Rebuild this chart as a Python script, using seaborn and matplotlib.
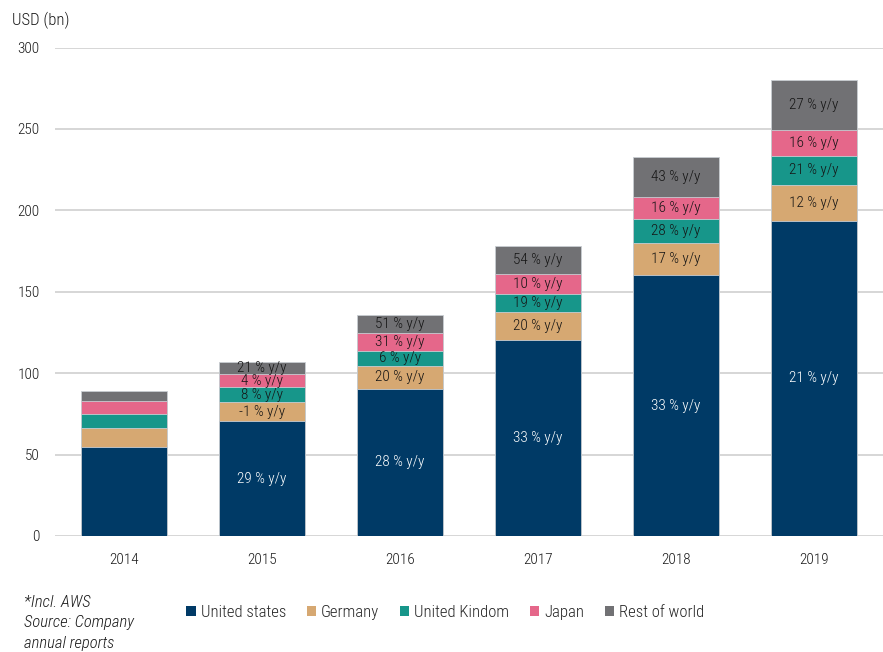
import numpy as np
import pandas as pd
import matplotlib
matplotlib.use("Agg")
import matplotlib.pyplot as plt
from matplotlib.patches import Patch
import seaborn as sns

# Net sales by region, USD bn
years = ["2014", "2015", "2016", "2017", "2018", "2019"]
united_states = [54.7, 70.5, 90.3, 120.5, 160.1, 193.6]
germany = [11.9, 11.8, 14.1, 17.0, 19.9, 22.2]
united_kingdom = [8.3, 9.0, 9.5, 11.4, 14.5, 17.5]
japan = [7.9, 8.3, 10.8, 11.9, 13.8, 16.0]
rest_of_world = [6.1, 7.4, 11.1, 17.2, 24.5, 31.1]

# Year-on-year growth labels (none for the first year)
us_growth = ["", "29 % y/y", "28 % y/y", "33 % y/y", "33 % y/y", "21 % y/y"]
de_growth = ["", "-1 % y/y", "20 % y/y", "20 % y/y", "17 % y/y", "12 % y/y"]
uk_growth = ["", "8 % y/y", "6 % y/y", "19 % y/y", "28 % y/y", "21 % y/y"]
jp_growth = ["", "4 % y/y", "31 % y/y", "10 % y/y", "16 % y/y", "16 % y/y"]
row_growth = ["", "21 % y/y", "51 % y/y", "54 % y/y", "43 % y/y", "27 % y/y"]

series_names = ["United states", "Germany", "United Kindom", "Japan", "Rest of world"]
series_values = [united_states, germany, united_kingdom, japan, rest_of_world]
series_labels = [us_growth, de_growth, uk_growth, jp_growth, row_growth]
series_colors = ["#003A66", "#D6A872", "#17968A", "#E5678A", "#717174"]
label_colors = ["white", "#151515", "#151515", "#151515", "#151515"]

sns.set_theme(style="white")
plt.rcParams["font.family"] = ["Roboto Condensed", "Fira Sans Condensed",
                               "PT Sans Narrow", "DejaVu Sans"]
plt.rcParams["font.weight"] = "light"

fig = plt.figure(figsize=(8.83, 6.52), dpi=100)
ax = fig.add_axes([0.0623, 0.178, 0.9377, 0.749])

values = np.array(series_values)
cumulative = np.cumsum(values, axis=0)
bases = cumulative - values

# Stack by drawing cumulative totals from the top layer down
for i in reversed(range(len(series_names))):
    df = pd.DataFrame({"year": years, "total": cumulative[i]})
    sns.barplot(data=df, x="year", y="total", color=series_colors[i],
                width=0.623, edgecolor="#C8CDD2", linewidth=0.6,
                saturation=1, ax=ax, zorder=3)

for i in range(len(series_names)):
    for j, text in enumerate(series_labels[i]):
        if text:
            mid = bases[i][j] + values[i][j] / 2
            ax.text(j, mid, text, ha="center", va="center", fontsize=11,
                    color=label_colors[i], zorder=5)

ax.set_xlim(-0.5, 5.5)
ax.set_ylim(0, 300)
ax.set_yticks([0, 50, 100, 150, 200, 250, 300])
ax.yaxis.grid(True, color="#D0D0D0", linewidth=1.2, zorder=0)
ax.set_axisbelow(True)
ax.set_xlabel("")
ax.set_ylabel("")
for s in ax.spines.values():
    s.set_visible(False)
ax.tick_params(axis="both", length=0, labelsize=11, colors="#1A1A1A")
ax.tick_params(axis="y", pad=11)
ax.tick_params(axis="x", pad=12)

fig.text(0.014, 0.968, "USD (bn)", fontsize=12, color="#1A1A1A", va="center")

handles = [Patch(facecolor=c, edgecolor="none") for c in series_colors]
fig.legend(handles, series_names, loc="center", bbox_to_anchor=(0.5045, 0.0613),
           ncol=5, frameon=False, fontsize=12, handlelength=0.55,
           handleheight=0.55, handletextpad=0.3, columnspacing=1.25)

fig.text(0.027, 0.0445, "*Incl. AWS\nSource: Company\nannual reports",
         fontsize=12, style="italic", color="#1A1A1A", va="center",
         linespacing=1.45)

fig.savefig("out.png", dpi=100)
